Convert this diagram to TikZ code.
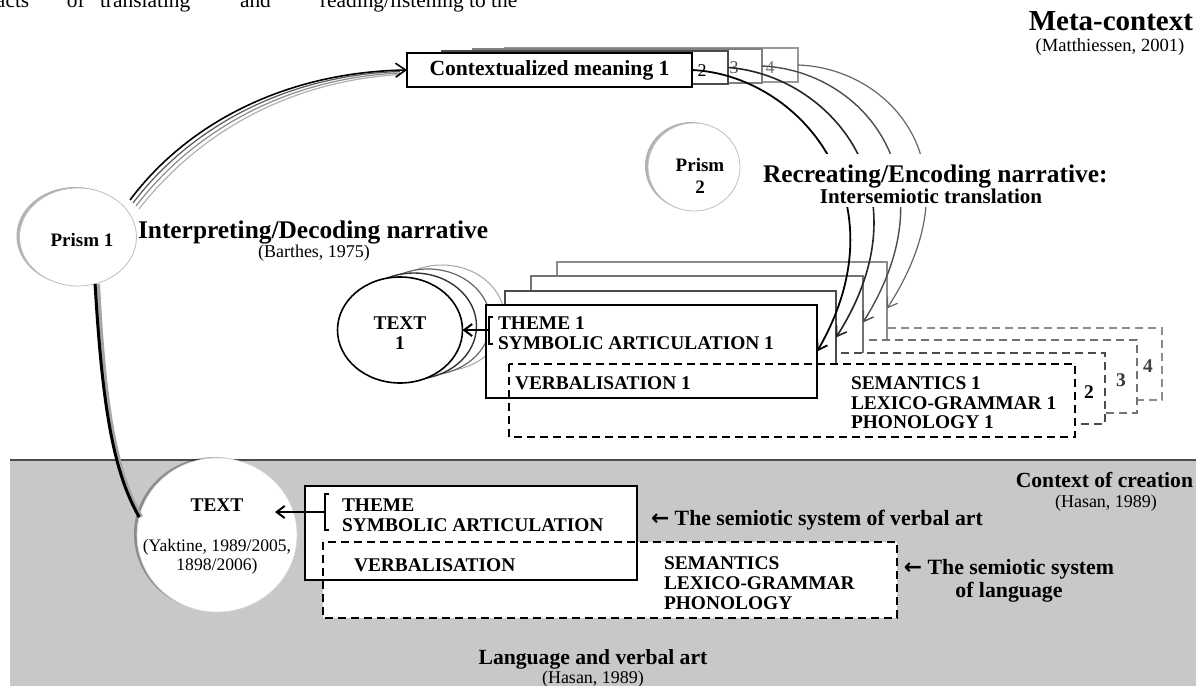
\documentclass[tikz,border=0pt]{standalone}
\usepackage{fontspec}
\setmainfont{Liberation Serif}
\newfontfamily\rsarrowfont{DejaVu Sans}
\usetikzlibrary{shapes.geometric,arrows.meta,shadows,fit}
\newcommand\rsfs[2]{\fontsize{#1}{#2}\selectfont}
\definecolor{bggray}{RGB}{200,200,200}
\begin{document}
\begin{tikzpicture}[x=0.5pt,y=-0.5pt,
  every node/.style={inner sep=0pt,outer sep=0pt},
  rect/.style={draw,fill=white,line width=0.8pt,inner sep=0pt},
  grect/.style={draw=black!55,fill=white,line width=0.6pt,inner sep=0pt},
  gdashrect/.style={draw=black!60,fill=white,line width=0.7pt,dash pattern=on 4pt off 2.5pt,inner sep=0pt},
  fillonly/.style={fill=white,inner sep=0pt},
  dashline/.style={line width=0.9pt,dash pattern=on 4pt off 2.5pt},
  shade/.style={drop shadow={shadow xshift=-1.5pt,shadow yshift=0.5pt,opacity=0.3,fill=black}},
  prism/.style={ellipse,draw=black!25,fill=white,line width=0.4pt,shade},
  lbl/.style={font=\bfseries\rsfs{9.7}{10}},
  small/.style={font=\rsfs{9}{10}},
  title/.style={font=\bfseries\rsfs{12.7}{14}},
  sub/.style={font=\bfseries\rsfs{10.8}{11.5}},
  barb/.style={-{Straight Barb[length=4.5pt,width=6pt]}},
  arcA/.style={barb,line width=0.9pt,black},
  arcB/.style={barb,line width=0.8pt,black!85},
  arcC/.style={barb,line width=0.7pt,black!70},
  arcD/.style={barb,line width=0.6pt,black!60},
  brack/.style={line width=1.3pt},
  pointer/.style={-{Straight Barb[length=4pt,width=6pt]},line width=1pt}
]
% canvas
\fill[white] (0,0) rectangle (1196,686);
\useasboundingbox (0,0) rectangle (1196,686);
\fill[bggray] (10,460) rectangle (1196,686);
\draw[line width=1pt,black!70] (10,460) -- (1196,460);

% page text fragment
\node[anchor=base west,font=\rsfs{10.7}{12}] (f1) at (-4,7) {acts};
\node[anchor=base west,font=\rsfs{10.7}{12}] (f2) at (67,7) {of};
\node[anchor=base west,font=\rsfs{10.7}{12}] (f3) at (100,7) {translating};
\node[anchor=base west,font=\rsfs{10.7}{12}] (f4) at (240,7) {and};
\node[anchor=base west,font=\rsfs{10.7}{12}] (f5) at (320,7) {reading/listening to the};

% titles
\node[anchor=east,font=\bfseries\rsfs{14.5}{16}] (meta) at (1193,21) {Meta-context};
\node[font=\rsfs{9.3}{10}] (metaref) at (1110,47) {(Matthiessen, 2001)};
\node[anchor=west,title] (interp) at (138,232) {Interpreting/Decoding narrative};
\node[small] (barthes) at (314,253) {(Barthes, 1975)};

% contextualized meaning stack
\node[grect,draw=black!40,fit={(505,48)(798,82)}] (ctx4) {};
\node[grect,draw=black!50,fit={(473,49)(762,83)}] (ctx3) {};
\node[grect,draw=black!70,fit={(442,51)(728,84)}] (ctx2) {};
\node[rect,fit={(407,53)(692,87)}] (ctx1) {};
\node[font=\bfseries\rsfs{10.8}{12}] (ctx1t) at (ctx1.center) {Contextualized meaning 1};
\node[font=\rsfs{9}{10}] (c2) at (702,71) {2};
\node[font=\rsfs{9}{10},black!70] (c3) at (734,68) {3};
\node[font=\rsfs{9}{10},black!55] (c4) at (770,68) {4};

% prisms
\node[prism,minimum width=58.5pt,minimum height=49pt] (prism1) at (78,237) {};
\node[font=\bfseries\rsfs{9.5}{11}] (prism1t) at (82,240) {Prism 1};
\node[prism,minimum width=46pt,minimum height=44pt] (prism2) at (694,167) {};
\node[font=\bfseries\rsfs{9.5}{11},align=center] (prism2t) at (700,176) {Prism\\2};

% prism 1 -> contextualized meaning (strands)
\draw[line width=0.6pt,black!30] (139,209) .. controls (199,132) and (290,81) .. (400,74.5);
\draw[line width=0.6pt,black!45] (136,206) .. controls (196,128) and (290,78) .. (400,73);
\draw[line width=0.6pt,black!65] (133,203) .. controls (193,124) and (290,75) .. (400,71.5);
\draw[line width=0.8pt,-{Straight Barb[length=5pt,width=7pt]}] (130,200) .. controls (190,120) and (290,72) .. (ctx1.west);

% TEXT 1 stack
\node[ellipse,draw=black!35,fill=white,line width=0.5pt,minimum width=62.5pt,minimum height=53pt] (e4) at (442,318) {};
\node[ellipse,draw=black!60,fill=white,line width=0.6pt,minimum width=62.5pt,minimum height=53pt] (e3) at (428,322) {};
\node[ellipse,draw=black!80,fill=white,line width=0.7pt,minimum width=62.5pt,minimum height=53pt] (e2) at (414,326) {};
\node[ellipse,draw,fill=white,line width=0.8pt,minimum width=62.5pt,minimum height=53pt] (text1) at (400,330) {};
\node[lbl,align=center] (text1t) at (400,333) {TEXT\\1};

% right stacks: groups 4,3,2
\node[gdashrect,draw=black!45,fit={(590,328)(1162,400)}] (db4) {};
\node[grect,draw=black!45,fit={(557,262)(887,355)}] (sb4) {};
\node[gdashrect,draw=black!55,fit={(560,340)(1137,413)}] (db3) {};
\node[grect,draw=black!55,fit={(531,276)(863,369)}] (sb3) {};
\node[gdashrect,draw=black!70,fit={(535,353)(1105,424)}] (db2) {};
\node[grect,draw=black!70,fit={(505,291)(836,384)}] (sb2) {};
% group 1
\node[rect,fit={(486,305)(817,398)}] (sb1) {};
\node[fillonly,fit={(509,364)(1075,437)}] (db1) {};
\draw[line width=0.8pt] (sb1.north west) rectangle (sb1.south east);
\draw[dashline] (db1.north west) rectangle (db1.south east);

\node[lbl,anchor=west,align=left] (th1) at (498,333) {THEME 1\\SYMBOLIC ARTICULATION 1};
\node[lbl,anchor=west] (verb1) at (515,383) {VERBALISATION 1};
\node[lbl,anchor=west,align=left,font=\bfseries\rsfs{9.7}{9.8}] (sem1) at (851,403) {SEMANTICS 1\\LEXICO-GRAMMAR 1\\PHONOLOGY 1};
\node[lbl] (d2) at (1089,392) {2};
\node[lbl,black!80] (d3) at (1121,380) {3};
\node[lbl,black!75] (d4) at (1148,366) {4};

\draw[brack] (493,317) -- (489,317) -- (489,344) -- (493,344);
\coordinate (br1) at (489,330);
\draw[pointer] (br1) -- (text1.east);

% arcs from contextualized meanings to texts
\draw[arcD] (ctx4.east) .. controls (890,68) and (980,165) .. (sb4.east);
\draw[arcC] (ctx3.east) .. controls (860,70) and (955,175) .. (sb3.east);
\draw[arcB] (ctx2.east) .. controls (830,75) and (930,190) .. (sb2.east);
\draw[arcA] (ctx1.east) .. controls (800,75) and (905,200) .. (sb1.east);

% title over the arcs
\node[fillonly,fit={(758,154)(1112,207)}] (recbg) {};
\node[anchor=west,title] (rec) at (763,176) {Recreating/Encoding narrative:};
\node[font=\bfseries\rsfs{10.5}{11}] (inter) at (931,196) {Intersemiotic translation};

% bottom: context of creation
\node[ellipse,fill=white,draw=black!15,line width=0.3pt,shade,minimum width=80pt,minimum height=77pt] (textb) at (217,535) {};
\draw[line width=2pt,black!35] ([xshift=1.5pt]prism1.-70) .. controls (104,400) and (114,470) .. ([xshift=1pt]textb.167);
\draw[line width=1.5pt] (prism1.-70) .. controls (102,400) and (112,470) .. (textb.167);
\node[lbl] (textbt) at (217,505) {TEXT};
\node[font=\rsfs{8.8}{9.5},align=center] (yak) at (217,557) {(Yaktine, 1989/2005,\\1898/2006)};

\node[rect,fit={(305,486)(637,580)}] (sbb) {};
\node[fillonly,fit={(323,542)(897,618)}] (dbb) {};
\draw[line width=0.8pt] (sbb.north west) rectangle (sbb.south east);
\draw[dashline] (dbb.north west) rectangle (dbb.south east);

\node[lbl,anchor=west,align=left,font=\bfseries\rsfs{9.7}{10}] (thb) at (342,515) {THEME\\SYMBOLIC ARTICULATION};
\node[lbl,anchor=west] (verbb) at (354,565) {VERBALISATION};
\node[lbl,anchor=west,align=left,font=\bfseries\rsfs{9.7}{10}] (semb) at (664,583) {SEMANTICS\\LEXICO-GRAMMAR\\PHONOLOGY};

\draw[brack] (329,494) -- (325,494) -- (325,530) -- (329,530);
\coordinate (brb) at (325,512);
\coordinate (tipb) at (275,512);
\draw[pointer] (brb) -- (tipb);

\node[anchor=west,font=\bfseries\rsfs{10.9}{12}] (sysva) at (651,520) {{\rsarrowfont\bfseries ←} The semiotic system of verbal art};
\node[align=center,font=\bfseries\rsfs{10.9}{11.5}] (syslang) at (1009,581) {{\rsarrowfont\bfseries ←} The semiotic system\\of language};

\node[anchor=east,sub] (coc) at (1193,480) {Context of creation};
\node[small] (cocref) at (1106,503) {(Hasan, 1989)};
\node[sub] (lva) at (593,659) {Language and verbal art};
\node[small] (lvaref) at (593,679) {(Hasan, 1989)};
\end{tikzpicture}
\end{document}
